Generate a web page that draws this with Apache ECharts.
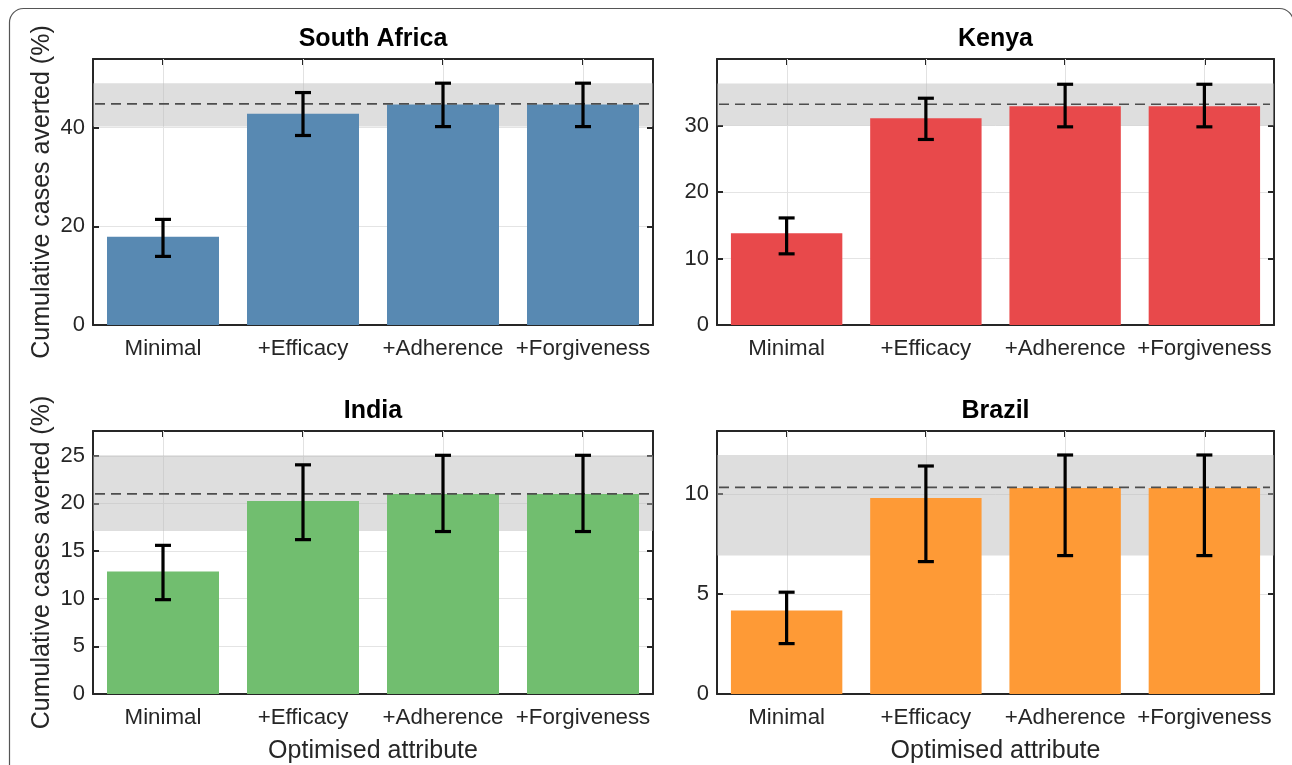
<!DOCTYPE html>
<html>
<head>
<meta charset="utf-8">
<script src="https://cdn.jsdelivr.net/npm/echarts@6/dist/echarts.min.js"></script>
<style>
  html, body { margin: 0; padding: 0; background: #ffffff; }
  #chart { width: 1292px; height: 765px; }
</style>
</head>
<body>
<div id="chart"></div>
<script>
// ---------- data ----------
const categories = ['Minimal', '+Efficacy', '+Adherence', '+Forgiveness'];
const panelTitles = ['South Africa', 'Kenya', 'India', 'Brazil'];

const saValues = [17.9, 42.8, 44.7, 44.7];
const saLower  = [13.9, 38.4, 40.2, 40.2];
const saUpper  = [21.4, 47.1, 49.0, 49.0];
const saRef    = [40.2, 44.8, 49.0];   // band low, reference line, band high

const keValues = [13.8, 31.1, 32.9, 32.9];
const keLower  = [10.7, 27.9, 29.8, 29.8];
const keUpper  = [16.1, 34.1, 36.2, 36.2];
const keRef    = [30.0, 33.2, 36.3];

const inValues = [12.85, 20.25, 21.0, 21.0];
const inLower  = [9.9, 16.2, 17.05, 17.05];
const inUpper  = [15.6, 24.05, 25.05, 25.05];
const inRef    = [17.1, 21.0, 25.05];

const brValues = [4.17, 9.8, 10.3, 10.3];
const brLower  = [2.52, 6.62, 6.92, 6.92];
const brUpper  = [5.09, 11.4, 11.95, 11.95];
const brRef    = [6.92, 10.33, 11.95];

// axis ranges / tick steps
const yMax  = [53.9, 40, 27.6, 13.15];
const yStep = [20, 10, 5, 5];

const yTitle = 'Cumulative cases averted (%)';
const xTitle = 'Optimised attribute';

// ---------- styling / layout ----------
const colors = ['#5889B2', '#E8494B', '#71BE6F', '#FE9A36'];
const FONT = '"Liberation Sans", Arial, Helvetica, sans-serif';
const AX = '#262626';
const grids = [
  { left: 93,  top: 59,  width: 560, height: 266 },
  { left: 717, top: 59,  width: 557, height: 266 },
  { left: 93,  top: 431, width: 560, height: 266 },
  { left: 717, top: 431, width: 557, height: 266 }
];
const panels = [
  { v: saValues, lo: saLower, hi: saUpper, ref: saRef },
  { v: keValues, lo: keLower, hi: keUpper, ref: keRef },
  { v: inValues, lo: inLower, hi: inUpper, ref: inRef },
  { v: brValues, lo: brLower, hi: brUpper, ref: brRef }
];

const xAxes = [], yAxes = [], series = [], titles = [];
panels.forEach((p, g) => {
  const isBottom = g >= 2, isLeft = g % 2 === 0;
  const axisLine = { show: true, onZero: false, lineStyle: { color: AX, width: 2 } };
  xAxes.push({
    gridIndex: g, type: 'category', data: categories, position: 'bottom',
    axisLine: axisLine, axisTick: { show: false },
    axisLabel: { fontSize: 22.3, color: AX, margin: 13, fontFamily: FONT, interval: 0 },
    splitLine: { show: false },
    name: isBottom ? xTitle : '', nameLocation: 'middle', nameGap: 45,
    nameTextStyle: { fontSize: 25, color: AX, fontFamily: FONT }
  });
  xAxes.push({
    gridIndex: g, type: 'category', data: categories, position: 'top',
    axisLine: axisLine,
    axisTick: { show: true, inside: true, alignWithLabel: true, length: 6, lineStyle: { color: AX, width: 2 } },
    axisLabel: { show: false }, splitLine: { show: false }
  });
  yAxes.push({
    gridIndex: g, type: 'value', min: 0, max: yMax[g], interval: yStep[g], position: 'left',
    axisLine: axisLine,
    axisTick: { show: true, inside: true, length: 6, lineStyle: { color: AX, width: 2 } },
    axisLabel: { fontSize: 22, color: AX, margin: 8, fontFamily: FONT, showMaxLabel: false },
    splitLine: { show: true, lineStyle: { color: '#e4e4e4', width: 1 } },
    name: isLeft ? yTitle : '', nameLocation: 'middle', nameGap: 38,
    nameTextStyle: { fontSize: 25, color: AX, fontFamily: FONT }
  });
  yAxes.push({
    gridIndex: g, type: 'value', min: 0, max: yMax[g], interval: yStep[g], position: 'right',
    axisLine: axisLine,
    axisTick: { show: true, inside: true, length: 6, lineStyle: { color: AX, width: 2 } },
    axisLabel: { show: false }, splitLine: { show: false }
  });

  const xi = 2 * g, yi = 2 * g;
  // vertical grid lines at category centres
  series.push({
    type: 'custom', xAxisIndex: xi, yAxisIndex: yi, z: 1, silent: true,
    data: categories.map((c, i) => [i, 0]),
    encode: { x: 0, y: 1 },
    renderItem: function (params, api) {
      const cs = params.coordSys;
      const x = Math.round(api.coord([api.value(0), 0])[0]) + 0.5;
      return { type: 'line', shape: { x1: x, y1: cs.y, x2: x, y2: cs.y + cs.height },
               style: { stroke: '#e2e2e2', lineWidth: 1 } };
    }
  });
  // shaded band
  series.push({
    type: 'custom', xAxisIndex: xi, yAxisIndex: yi, z: 2, silent: true,
    data: [[0, p.ref[0], p.ref[2]]],
    encode: { x: 0, y: [1, 2] },
    renderItem: function (params, api) {
      const cs = params.coordSys;
      const yLo = api.coord([0, api.value(1)])[1];
      const yHi = api.coord([0, api.value(2)])[1];
      return { type: 'rect', shape: { x: cs.x, y: yHi, width: cs.width, height: yLo - yHi },
               style: { fill: 'rgba(185,185,185,0.47)' } };
    }
  });
  // bars
  series.push({
    type: 'bar', xAxisIndex: xi, yAxisIndex: yi, z: 3, silent: true,
    data: p.v, barWidth: '80%',
    itemStyle: { color: colors[g] }
  });
  // reference dashed line
  series.push({
    type: 'custom', xAxisIndex: xi, yAxisIndex: yi, z: 4, silent: true,
    data: [[0, p.ref[1]]],
    encode: { x: 0, y: 1 },
    renderItem: function (params, api) {
      const cs = params.coordSys;
      const y = api.coord([0, api.value(1)])[1];
      return { type: 'line', shape: { x1: cs.x + 2, y1: y, x2: cs.x + cs.width - 4, y2: y },
               style: { stroke: '#4d4d4d', lineWidth: 1.6, lineDash: [10, 6] } };
    }
  });
  // error bars
  series.push({
    type: 'custom', xAxisIndex: xi, yAxisIndex: yi, z: 5, silent: true,
    data: categories.map((c, i) => [i, p.lo[i], p.hi[i]]),
    encode: { x: 0, y: [1, 2] },
    renderItem: function (params, api) {
      const pLo = api.coord([api.value(0), api.value(1)]);
      const pHi = api.coord([api.value(0), api.value(2)]);
      const x = pLo[0], w = 8;
      const st = { stroke: '#000', lineWidth: 3.2 };
      return { type: 'group', children: [
        { type: 'line', shape: { x1: x, y1: pLo[1], x2: x, y2: pHi[1] }, style: st },
        { type: 'line', shape: { x1: x - w, y1: pLo[1], x2: x + w, y2: pLo[1] }, style: st },
        { type: 'line', shape: { x1: x - w, y1: pHi[1], x2: x + w, y2: pHi[1] }, style: st }
      ] };
    }
  });

  titles.push({
    text: panelTitles[g], left: grids[g].left + grids[g].width / 2, top: grids[g].top - 32,
    textAlign: 'center', padding: 0,
    textStyle: { fontSize: 25, fontWeight: 'bold', color: '#000', fontFamily: FONT }
  });
});

const chart = echarts.init(document.getElementById('chart'), null, { renderer: 'canvas' });
chart.setOption({
  animation: false,
  backgroundColor: '#ffffff',
  textStyle: { fontFamily: FONT },
  title: titles,
  grid: grids,
  xAxis: xAxes,
  yAxis: yAxes,
  series: series,
  graphic: [{
    type: 'rect', silent: true, z: -10,
    shape: { x: 9.5, y: 8.5, width: 1284, height: 800, r: 14 },
    style: { fill: 'none', stroke: '#555', lineWidth: 1.2 }
  }]
});
</script>
</body>
</html>
